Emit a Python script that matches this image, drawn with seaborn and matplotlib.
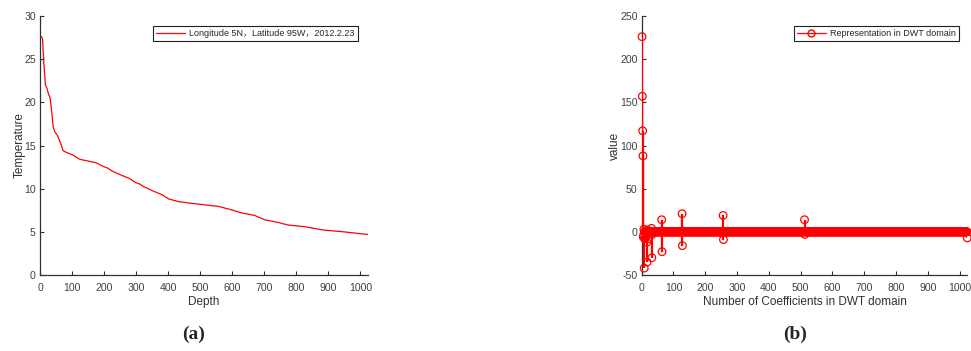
import numpy as np
import pandas as pd
import matplotlib
matplotlib.use("Agg")
import matplotlib.pyplot as plt
from matplotlib.lines import Line2D
import seaborn as sns

# Temperature profile (depth in m, temperature in deg C)
depth = [0, 5, 8, 12, 17, 21, 27, 31, 36, 41, 46, 54, 62, 72, 82, 103, 124, 150,
         175, 196, 210, 227, 258, 278, 299, 314, 320, 355, 381, 402, 433, 495,
         557, 598, 629, 670, 701, 742, 773, 825, 887, 948, 985, 1010, 1024]
temperature = [27.65, 27.6, 27.3, 24.5, 22.0, 21.7, 20.9, 20.6, 19.1, 17.2, 16.6,
               16.2, 15.5, 14.4, 14.2, 13.9, 13.4, 13.2, 13.0, 12.6, 12.4, 12.0,
               11.5, 11.2, 10.7, 10.5, 10.3, 9.7, 9.3, 8.8, 8.5, 8.2, 7.95, 7.55,
               7.2, 6.9, 6.4, 6.1, 5.8, 5.6, 5.2, 5.0, 4.85, 4.75, 4.7]

# DWT coefficients: 1024 entries, non-zero ones listed by position
n_coeffs = 1024
coef_index = [1, 2, 3, 4, 5, 6, 7, 8, 10, 12, 16, 17, 18, 21, 31, 32, 33,
              63, 64, 127, 128, 256, 257, 512, 513, 1024]
coef_value = [226, 157, 117, 88, -6, -4, 3, -42, -8, -7, -12, -35, 2, -8, 4,
              -30, -3, 14, -23, 21, -16, 19, -9, 14, -3, -7]

label_a = "Longitude 5N，Latitude 95W，2012.2.23"
label_b = "Representation in DWT domain"

sns.set_theme(style="ticks")
plt.rcParams["font.family"] = ["Liberation Sans", "Noto Sans CJK SC", "DejaVu Sans"]
plt.rcParams["axes.unicode_minus"] = False
plt.rcParams["axes.edgecolor"] = "#303030"
plt.rcParams["xtick.color"] = "#303030"
plt.rcParams["ytick.color"] = "#303030"
plt.rcParams["xtick.labelcolor"] = "#404040"
plt.rcParams["ytick.labelcolor"] = "#404040"
plt.rcParams["axes.labelcolor"] = "#303030"

W, H = 971, 351
fig = plt.figure(figsize=(W / 100, H / 100), dpi=100)

def px_axes(left, top, right, bottom):
    return fig.add_axes([left / W, 1 - bottom / H, (right - left) / W, (bottom - top) / H])

ax_a = px_axes(40, 16, 368, 275)
ax_b = px_axes(641.7, 16, 967.3, 275)

# (a) temperature vs depth
prof = pd.DataFrame({"Depth": depth, "Temperature": temperature})
sns.lineplot(data=prof, x="Depth", y="Temperature", ax=ax_a, color="red",
             linewidth=0.9, label=label_a, sort=False)
ax_a.set_xlim(0, 1024)
ax_a.set_ylim(0, 30)
ax_a.set_xticks(range(0, 1001, 100))
ax_a.set_yticks(range(0, 31, 5))

# (b) stem plot of DWT coefficients
coeffs = np.zeros(n_coeffs)
coeffs[np.array(coef_index) - 1] = coef_value
dwt = pd.DataFrame({"n": np.arange(1, n_coeffs + 1), "value": coeffs})
ax_b.vlines(dwt["n"], 0, dwt["value"], color="red", linewidth=1.6, zorder=3)
ax_b.axhline(0, color="red", linewidth=1.0, zorder=3)
sns.scatterplot(data=dwt, x="n", y="value", ax=ax_b, marker="o", s=30,
                color="red", facecolors="none", edgecolor="red", linewidth=0.9,
                zorder=4, legend=False, clip_on=False)
ax_b.set_xlim(0, 1024)
ax_b.set_ylim(-50, 250)
ax_b.set_xticks(range(0, 1001, 100))
ax_b.set_yticks(range(-50, 251, 50))
ax_b.set_xlabel("Number of Coefficients in DWT domain", fontsize=8.5)
ax_b.set_ylabel("value", fontsize=8.5, labelpad=-1)

for ax in (ax_a, ax_b):
    sns.despine(ax=ax)
    ax.tick_params(direction="in", length=3, width=0.8, labelsize=7.6, pad=3)
    ax.tick_params(axis="x", pad=6)
    for s in ("left", "bottom"):
        ax.spines[s].set_linewidth(0.9)

ax_a.set_xlabel("Depth", fontsize=8.5, labelpad=2)
ax_a.set_ylabel("Temperature", fontsize=8.5, labelpad=-1)
ax_b.xaxis.labelpad = 2

leg_kw = dict(loc="upper right", fontsize=6.45, frameon=True, fancybox=False,
              framealpha=1, edgecolor="#202020", borderaxespad=0,
              borderpad=0.35, handletextpad=0.5, handlelength=3.2)
la = ax_a.legend(handles=[Line2D([], [], color="red", lw=0.9)], labels=[label_a],
                 bbox_to_anchor=(0.9695, 0.9614), **leg_kw)
lb = ax_b.legend(handles=[Line2D([], [], color="red", lw=0.9, marker="o",
                                 markerfacecolor="none", markersize=5)],
                 labels=[label_b], bbox_to_anchor=(0.9745, 0.9614), **leg_kw)
for lg in (la, lb):
    lg.get_frame().set_linewidth(0.8)

fig.text(194 / W, 1 - 334 / H, "(a)", ha="center", va="center",
         fontsize=14, fontweight="bold", family="Liberation Serif")
fig.text(795 / W, 1 - 334 / H, "(b)", ha="center", va="center",
         fontsize=14, fontweight="bold", family="Liberation Serif")

fig.savefig("out.png", dpi=100)
